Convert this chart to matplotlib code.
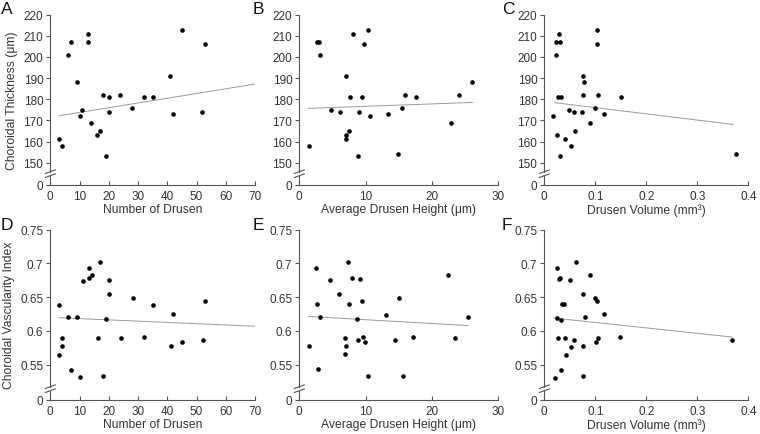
import numpy as np
import matplotlib
matplotlib.use('Agg')
import matplotlib.pyplot as plt

plt.rcParams['font.family'] = ['Liberation Sans', 'DejaVu Sans']

# ---------------- data ----------------
# Panel A: Number of drusen vs choroidal thickness
a_x = [3, 4, 6, 7, 9, 10, 11, 13, 13, 14, 16, 17, 18, 19, 20, 20, 24, 28, 32, 35, 41, 42, 45, 52, 53]
a_y = [161, 158, 201, 207, 188, 172, 175, 211, 207, 169, 163, 165, 182, 153, 181, 174, 182, 176, 181, 181, 191, 173, 213, 174, 206]
a_trend_x = [3, 70]
a_trend_y = [172.2, 187.2]

# Panel B: Average drusen height vs choroidal thickness
b_x = [1.5, 2.6, 3.0, 3.1, 4.8, 6.2, 7.1, 7.0, 7.1, 7.5, 7.7, 8.1, 8.8, 9.0, 9.4, 9.8, 10.3, 10.7, 13.4, 14.9, 15.5, 16.0, 17.6, 22.9, 24.1, 26.1]
b_y = [158, 207, 207, 201, 175, 174, 191, 163, 161, 165, 181, 211, 153, 174, 181, 206, 213, 172, 173, 154, 176, 182, 181, 169, 182, 188]
b_trend_x = [1.4, 26.1]
b_trend_y = [175.7, 178.5]

# Panel C: Drusen volume vs choroidal thickness
c_x = [0.018, 0.022, 0.022, 0.028, 0.031, 0.024, 0.026, 0.032, 0.031, 0.041, 0.049, 0.052, 0.058, 0.061,
       0.075, 0.078, 0.075, 0.074, 0.089, 0.099, 0.103, 0.104, 0.105, 0.118, 0.150, 0.375]
c_y = [172, 201, 207, 211, 207, 163, 181, 181, 153, 161, 175, 158, 174, 165,
       191, 188, 182, 174, 169, 176, 213, 206, 182, 173, 181, 154]
c_trend_x = [0.02, 0.37]
c_trend_y = [178.4, 168.1]

# Panel D: Number of drusen vs choroidal vascularity index
d_x = [3.1, 3.1, 4.1, 4.1, 6.2, 7.0, 9.1, 10.1, 11.2, 13.1, 13.1, 14.3, 16.2, 17.1, 18.1, 19.0, 20.1, 20.1,
       24.1, 28.2, 32.1, 35.1, 41.2, 42.0, 44.9, 52.1, 52.9]
d_y = [0.639, 0.565, 0.590, 0.577, 0.620, 0.542, 0.620, 0.532, 0.674, 0.693, 0.678, 0.683, 0.590, 0.702, 0.533, 0.617, 0.676, 0.655,
       0.590, 0.649, 0.591, 0.639, 0.578, 0.625, 0.584, 0.587, 0.644]
d_trend_x = [3, 70]
d_trend_y = [0.6196, 0.607]

# Panel E: Average drusen height vs choroidal vascularity index
e_x = [1.46, 2.56, 2.66, 3.07, 2.86, 4.67, 6.03, 6.88, 6.98, 6.88, 7.29, 7.54, 7.89, 8.64, 8.79, 9.15, 9.5, 9.55,
       9.95, 10.35, 13.0, 14.5, 15.1, 15.6, 17.2, 22.4, 23.5, 25.4]
e_y = [0.577, 0.693, 0.640, 0.620, 0.543, 0.675, 0.655, 0.590, 0.577, 0.566, 0.702, 0.640, 0.679, 0.617, 0.587, 0.677, 0.645, 0.591,
       0.584, 0.533, 0.624, 0.586, 0.649, 0.533, 0.591, 0.683, 0.589, 0.620]
e_trend_x = [1.4, 25.4]
e_trend_y = [0.6215, 0.608]

# Panel F: Drusen volume vs choroidal vascularity index
f_x = [0.0205, 0.024, 0.028, 0.030, 0.024, 0.033, 0.027, 0.033, 0.034, 0.038, 0.040, 0.043, 0.050, 0.052,
       0.059, 0.062, 0.075, 0.075, 0.075, 0.080, 0.089, 0.099, 0.104, 0.102, 0.105, 0.118, 0.149, 0.368]
f_y = [0.531, 0.694, 0.677, 0.679, 0.619, 0.616, 0.589, 0.542, 0.640, 0.640, 0.590, 0.565, 0.675, 0.576,
       0.586, 0.702, 0.655, 0.577, 0.533, 0.620, 0.683, 0.649, 0.645, 0.584, 0.590, 0.625, 0.591, 0.586]
f_trend_x = [0.02, 0.368]
f_trend_y = [0.619, 0.591]

panel_letters = ['A', 'B', 'C', 'D', 'E', 'F']
x_labels = ['Number of Drusen', 'Average Drusen Height (\u03bcm)', 'Drusen Volume (mm\u00b3)']
y_labels = ['Choroidal Thickness (\u03bcm)', 'Choroidal Vascularity Index']

x_ticks_n = [0, 10, 20, 30, 40, 50, 60, 70]
x_ticks_h = [0, 10, 20, 30]
x_ticks_v = [0, 0.1, 0.2, 0.3, 0.4]
x_ticklabels_v = ['0', '0.1', '0.2', '0.3', '0.4']

ct_ticks = [150, 160, 170, 180, 190, 200, 210, 220]
cvi_ticks = [0.55, 0.6, 0.65, 0.7, 0.75]
cvi_ticklabels = ['0.55', '0.6', '0.65', '0.7', '0.75']

# ---------------- figure ----------------
W, H = 760, 435
fig = plt.figure(figsize=(W / 100, H / 100), dpi=100)

txt = '#333333'
spine_c = '#555555'

cols = [(50.3, 204.7), (299.3, 199.0), (544.3, 204.0)]   # left px, width px
rows = [(15.7, 185.7), (230.7, 400.7)]                    # top px, bottom px

datasets = [
    (a_x, a_y, a_trend_x, a_trend_y, 0, 0), (b_x, b_y, b_trend_x, b_trend_y, 0, 1),
    (c_x, c_y, c_trend_x, c_trend_y, 0, 2), (d_x, d_y, d_trend_x, d_trend_y, 1, 0),
    (e_x, e_y, e_trend_x, e_trend_y, 1, 1), (f_x, f_y, f_trend_x, f_trend_y, 1, 2),
]

for i, (xs, ys, tx, ty, r, c) in enumerate(datasets):
    left, wpx = cols[c]
    top, bot = rows[r]
    hpx = bot - top
    ax = fig.add_axes([left / W, 1 - bot / H, wpx / W, hpx / H])

    # x axis
    if c == 0:
        xt, xtl, xmax = x_ticks_n, [str(t) for t in x_ticks_n], 70
    elif c == 1:
        xt, xtl, xmax = x_ticks_h, [str(t) for t in x_ticks_h], 30
    else:
        xt, xtl, xmax = x_ticks_v, x_ticklabels_v, 0.4
    ax.set_xlim(0, xmax)
    ax.set_xticks(xt)
    ax.set_xticklabels(xtl)

    # y axis with break: "0" sits below the break
    if r == 0:
        yt, ytl, step, gap_px = ct_ticks, [str(t) for t in ct_ticks], 10, 22.0
    else:
        yt, ytl, step, gap_px = cvi_ticks, cvi_ticklabels, 0.05, 35.0
    px_per_step = (hpx - gap_px) / (len(yt) - 1)
    y_zero = yt[0] - gap_px / px_per_step * step
    ax.set_ylim(y_zero, yt[-1])
    ax.set_yticks([y_zero] + list(yt))
    ax.set_yticklabels(['0'] + ytl)

    # points
    ax.scatter(xs, ys, s=11, color='black', zorder=3, linewidths=0)

    # trend line
    ax.plot(tx, ty, color='#9a9a9a', lw=0.7, zorder=2)

    # spines
    for s in ['top', 'right']:
        ax.spines[s].set_visible(False)
    ax.spines['bottom'].set_color(spine_c)
    ax.spines['bottom'].set_linewidth(0.8)
    ax.spines['left'].set_visible(False)

    # left spine in two pieces with break marks (axes-fraction y)
    f_hi = 13.0 / hpx
    f_lo = 9.0 / hpx
    ax.plot([0, 0], [f_hi, 1], transform=ax.transAxes, color=spine_c, lw=0.8, clip_on=False)
    ax.plot([0, 0], [0, f_lo], transform=ax.transAxes, color=spine_c, lw=0.8, clip_on=False)
    dx = 5.0 / wpx
    dy = 1.8 / hpx
    for fy in (f_hi, f_lo):
        ax.plot([-dx, dx], [fy - dy, fy + dy], transform=ax.transAxes, color=spine_c, lw=0.8, clip_on=False)

    ax.tick_params(axis='x', direction='in', length=3, width=0.8, color=spine_c,
                   labelsize=8.5, labelcolor=txt, pad=4)
    ax.tick_params(axis='y', direction='out', length=3, width=0.8, color=spine_c,
                   labelsize=8.5, labelcolor=txt, pad=2)

    ax.set_xlabel(x_labels[c], fontsize=8.7, color=txt, labelpad=0.5)
    if c == 0:
        ax.set_ylabel(y_labels[r], fontsize=8.7, color=txt, labelpad=4)

    # panel letter
    lx = [1, 253, 502][c]
    ly = [2, 218][r]
    fig.text(lx / W, 1 - ly / H, panel_letters[i], fontsize=12.5, color='#111111',
             ha='left', va='top')

fig.savefig('out.png', dpi=100)
